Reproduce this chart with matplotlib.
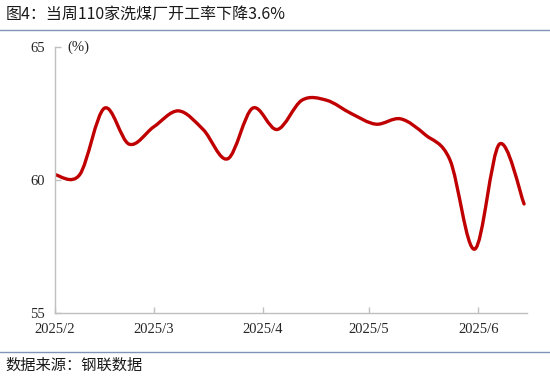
import numpy as np
import matplotlib
matplotlib.use('Agg')
import matplotlib.pyplot as plt
import matplotlib.dates as mdates
from matplotlib.path import Path
from matplotlib.patches import PathPatch

plt.rcParams['font.family'] = ['Noto Sans CJK SC', 'DejaVu Sans']

# weekly operating rate of 110 coal washing plants (%)
dates = np.arange(np.datetime64('2025-02-01'), np.datetime64('2025-06-15'), np.timedelta64(7, 'D'))
rate = [60.2, 60.2, 62.7, 61.35, 62.0, 62.6, 61.9, 60.8, 62.7, 61.9,
        63.0, 63.0, 62.5, 62.1, 62.3, 61.7, 60.75, 57.4, 61.35, 59.1]
month_ticks = ['2025-02-01', '2025-03-01', '2025-04-01', '2025-05-01', '2025-06-01']
month_labels = ['2025/2', '2025/3', '2025/4', '2025/5', '2025/6']


def smooth_path(x, y):
    '''Excel-like smoothed line: cubic Bezier through every point.'''
    x = np.asarray(x, float)
    y = np.asarray(y, float)
    verts = [(x[0], y[0])]
    codes = [Path.MOVETO]
    n = len(x)
    for i in range(n - 1):
        i0 = max(i - 1, 0)
        i3 = min(i + 2, n - 1)
        c1 = (x[i] + (x[i + 1] - x[i0]) / 6, y[i] + (y[i + 1] - y[i0]) / 6)
        c2 = (x[i + 1] - (x[i3] - x[i]) / 6, y[i + 1] - (y[i3] - y[i]) / 6)
        verts += [c1, c2, (x[i + 1], y[i + 1])]
        codes += [Path.CURVE4] * 3
    return Path(verts, codes)


fig = plt.figure(figsize=(5.5, 3.81), dpi=100)
ax = fig.add_axes([0.1, 0.1785, 0.858, 0.698])

xnum = mdates.date2num(dates.astype('datetime64[D]').astype(object))
patch = PathPatch(smooth_path(xnum, rate), facecolor='none', edgecolor='#C00000',
                  lw=2.4, capstyle='round', joinstyle='round')
ax.add_patch(patch)

ax.set_xlim(xnum[0], xnum[-1] + 0.8)
ax.set_ylim(55, 65)
ax.set_yticks([55, 60, 65])
tick_pos = [mdates.date2num(np.datetime64(d).astype(object)) for d in month_ticks]
ax.set_xticks(tick_pos)
ax.set_xticklabels(month_labels)

for s in ['top', 'right']:
    ax.spines[s].set_visible(False)
for s in ['left', 'bottom']:
    ax.spines[s].set_color('#bfbfbf')
    ax.spines[s].set_linewidth(1.0)
ax.tick_params(direction='in', length=4, color='#bfbfbf', width=1.0)
ax.tick_params(axis='x', pad=7)
ax.tick_params(axis='y', pad=7)
for lab in ax.get_xticklabels() + ax.get_yticklabels():
    lab.set_fontfamily('Liberation Serif')
    lab.set_fontsize(10.5)
    lab.set_color('#262626')

ax.text(0.027, 1.0, '(%)', transform=ax.transAxes, fontfamily='Liberation Serif',
        fontsize=10.5, color='#262626', ha='left', va='center')

fig.text(0.01, 0.962, '图4：当周110家洗煤厂开工率下降3.6%', fontsize=11.5,
         color='#1a1a1a', ha='left', va='center')
fig.add_artist(plt.Line2D([0, 1], [0.921, 0.921], color='#7f94b8', lw=1.0))
fig.add_artist(plt.Line2D([0, 1], [0.077, 0.077], color='#7f94b8', lw=1.0))
fig.text(0.01, 0.042, '数据来源：钢联数据', fontsize=11, color='#1a1a1a',
         ha='left', va='center')

fig.savefig('out.png', dpi=100)
